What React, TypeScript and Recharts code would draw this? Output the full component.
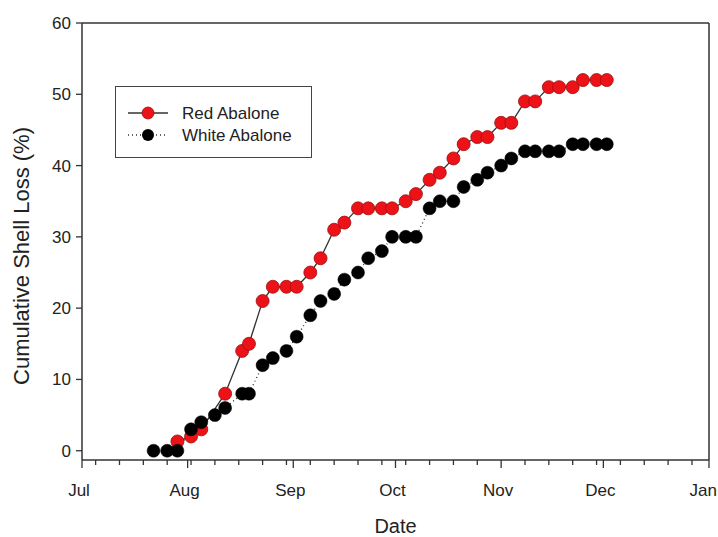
import React from "react";
import {
  LineChart,
  Line,
  XAxis,
  YAxis,
  ReferenceLine,
  Label,
} from "recharts";

// sampling days, counted from Jul 1 (day 0)
const days = [
  21, 25, 28, 32, 35, 39, 42, 47, 49, 53, 56, 60, 63, 67, 70, 74, 77, 81, 84,
  88, 91, 95, 98, 102, 105, 109, 112, 116, 119, 123, 126, 130, 133, 137, 140,
  144, 147, 151, 154,
];

const redLoss = [
  null, null, 1.3, 2, 3, null, 8, 14, 15, 21, 23, 23, 23, 25, 27, 31, 32, 34,
  34, 34, 34, 35, 36, 38, 39, 41, 43, 44, 44, 46, 46, 49, 49, 51, 51, 51, 52,
  52, 52,
];

const whiteLoss = [
  0, 0, 0, 3, 4, 5, 6, 8, 8, 12, 13, 14, 16, 19, 21, 22, 24, 25, 27, 28, 30,
  30, 30, 34, 35, 35, 37, 38, 39, 40, 41, 42, 42, 42, 42, 43, 43, 43, 43,
];

// month starts (labelled ticks) and weekly minor ticks
const monthDays = [0, 31, 62, 92, 123, 153, 184];
const monthLabels = ["Jul", "Aug", "Sep", "Oct", "Nov", "Dec", "Jan"];
const weekDays = [
  4, 11, 18, 25, 32, 39, 46, 53, 60, 67, 74, 81, 88, 95, 102, 109, 116, 123,
  130, 137, 144, 151, 158, 165, 172, 179,
];

const yTicks = [0, 10, 20, 30, 40, 50, 60];

const data = days.map((d, i) => ({
  day: d,
  red: redLoss[i],
  white: whiteLoss[i],
}));

const allXTicks = Array.from(new Set([...weekDays, ...monthDays])).sort(
  (a, b) => a - b
);

const FONT = '"Liberation Sans", Arial, sans-serif';
const INK = "#333";
const RED = "#ec1218";

function DateTick(props: any) {
  const { x, y, payload } = props;
  const idx = monthDays.indexOf(payload.value);
  const major = idx >= 0;
  // last label is pulled in so it stays inside the picture
  const last = idx === monthLabels.length - 1;
  return (
    <g>
      <line x1={x} x2={x} y1={y} y2={y + (major ? 8 : 5)} stroke={INK} strokeWidth={1.3} />
      {major && (
        <text
          x={last ? 717 : x - 3}
          y={y + 36}
          textAnchor={last ? "end" : "middle"}
          fontSize={17}
          fill="#222"
          fontFamily={FONT}
        >
          {monthLabels[idx]}
        </text>
      )}
    </g>
  );
}

const RedDot = (p: any) =>
  p.value == null ? null : (
    <circle key={p.index} cx={p.cx} cy={p.cy} r={6.5} fill={RED} stroke="#9a1010" strokeWidth={0.8} />
  );

const BlackDot = (p: any) => (
  <circle key={p.index} cx={p.cx} cy={p.cy} r={6.5} fill="#000" stroke="#000" strokeWidth={0.5} />
);

export default function App() {
  return (
    <div
      style={{
        position: "absolute",
        left: 0,
        top: 0,
        width: 718,
        height: 537,
        background: "#fff",
        fontFamily: FONT,
      }}
    >
      <LineChart
        width={718}
        height={537}
        data={data}
        margin={{ top: 23, right: 9, left: 0, bottom: 0 }}
      >
        <XAxis
          dataKey="day"
          type="number"
          domain={[0, 184]}
          ticks={allXTicks}
          interval={0}
          tickSize={0}
          tickMargin={0}
          tickLine={false}
          tick={<DateTick />}
          axisLine={{ stroke: INK, strokeWidth: 1.5 }}
          height={77}
        >
          <Label
            value="Date"
            position="insideBottom"
            offset={4}
            style={{ fontSize: 20, fill: "#222", fontFamily: FONT }}
          />
        </XAxis>
        <YAxis
          type="number"
          domain={[-1.3, 60]}
          allowDataOverflow
          ticks={yTicks}
          interval={0}
          width={82}
          tickSize={6}
          tickMargin={5}
          tickLine={{ stroke: INK, strokeWidth: 1.3 }}
          axisLine={{ stroke: INK, strokeWidth: 1.5 }}
          tick={{ fontSize: 17, fill: "#222", fontFamily: FONT }}
        >
          <Label
            content={() => (
              <text
                transform="translate(29,256) rotate(-90)"
                textAnchor="middle"
                fontSize={22}
                fill="#222"
                fontFamily={FONT}
              >
                Cumulative Shell Loss (%)
              </text>
            )}
          />
        </YAxis>
        <ReferenceLine y={60} stroke={INK} strokeWidth={1.5} />
        <ReferenceLine x={184} stroke={INK} strokeWidth={1.5} />
        <Line
          dataKey="red"
          stroke={INK}
          strokeWidth={1.3}
          connectNulls
          dot={<RedDot />}
          isAnimationActive={false}
        />
        <Line
          dataKey="white"
          stroke={INK}
          strokeWidth={1.3}
          strokeDasharray="1 3"
          dot={<BlackDot />}
          isAnimationActive={false}
        />
      </LineChart>

      {/* legend box */}
      <div
        style={{
          position: "absolute",
          left: 115,
          top: 86,
          width: 195,
          height: 70,
          border: "1.5px solid #444",
          background: "#fff",
        }}
      >
        <svg width={195} height={70} style={{ position: "absolute", left: 0, top: 0 }}>
          <line x1={12} x2={52} y1={26} y2={26} stroke={INK} strokeWidth={1.3} />
          <circle cx={32} cy={26} r={6} fill={RED} stroke="#9a1010" strokeWidth={0.8} />
          <text x={66} y={32} fontSize={17} fill="#222" fontFamily={FONT}>
            Red Abalone
          </text>
          <line x1={12} x2={52} y1={48} y2={48} stroke={INK} strokeWidth={1.3} strokeDasharray="1 3" />
          <circle cx={32} cy={48} r={6} fill="#000" />
          <text x={66} y={54} fontSize={17} fill="#222" fontFamily={FONT}>
            White Abalone
          </text>
        </svg>
      </div>
    </div>
  );
}
